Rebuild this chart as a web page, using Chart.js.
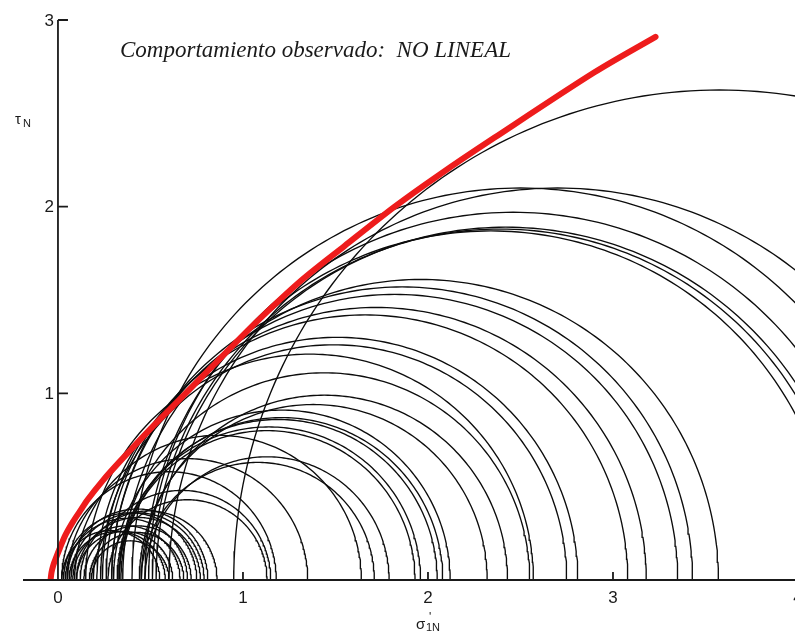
<!DOCTYPE html>
<html>
<head>
<meta charset="utf-8">
<script src="https://cdn.jsdelivr.net/npm/chart.js@4.4.0/dist/chart.umd.min.js"></script>
<style>
  html, body { margin: 0; padding: 0; background: #fff; overflow: hidden; }
  #wrap { width: 815px; height: 637px; }
</style>
</head>
<body>
<div id="wrap"><canvas id="mohr"></canvas></div>
<script>
// ==================== DATA ====================
// Mohr circles: minor (left) and major (right) normalised effective stresses
const sigma3 = [0.95, 0.60, 0.40, 0.49, 0.53, 0.51, 0.47,
                0.35, 0.29, 0.29, 0.26, 0.24, 0.21, 0.23,
                0.15, 0.33, 0.45, 0.44, 0.30, 0.34, 0.33, 0.32, 0.33, 0.47, 0.45, 0.09,
                0.05, 0.02, 0.19, 0.27,
                0.12, 0.05, 0.07, 0.10, 0.03, 0.14, 0.04, 0.17, 0.08, 0.10, 0.18, 0.06, 0.02];
const sigma1 = [6.20, 4.80, 4.60, 4.43, 4.31, 4.27, 4.21,
                3.57, 3.43, 3.35, 3.18, 3.08, 2.81, 2.75,
                2.57, 2.55, 2.43, 2.32, 2.12, 2.08, 2.05, 1.96, 1.93, 1.79, 1.71, 1.64,
                1.35, 1.18, 1.15, 1.13,
                0.86, 0.81, 0.79, 0.77, 0.75, 0.72, 0.70, 0.68, 0.66, 0.62, 0.60, 0.58, 0.55];

// failure envelope (red curve)
const envSigma = [-0.04, -0.035, -0.025, -0.01, 0.01, 0.04, 0.08, 0.12, 0.16, 0.24, 0.33, 0.50, 0.65, 0.86, 1.05, 1.31, 1.55, 1.82, 2.06, 2.36, 2.90, 3.23];
const envTau   = [0.00, 0.04, 0.08, 0.12, 0.17, 0.24, 0.31, 0.37, 0.43, 0.53, 0.63, 0.81, 0.96, 1.17, 1.36, 1.60, 1.79, 2.00, 2.17, 2.37, 2.72, 2.91];

const xTicks = [0, 1, 2, 3, 4];
const yTicks = [1, 2, 3];
const note = 'Comportamiento observado:  NO LINEAL';

// ==================== DATASETS ====================
function semicircle(s3, s1) {
  const c = (s1 + s3) / 2, r = (s1 - s3) / 2;
  const pts = [];
  for (let i = 0; i <= 160; i++) {
    const a = Math.PI * i / 160;
    pts.push({ x: c + r * Math.cos(a), y: r * Math.sin(a) });
  }
  return pts;
}

const datasets = [{
  data: envSigma.map((s, i) => ({ x: s, y: envTau[i] })),
  borderColor: '#ee1c1c',
  borderWidth: 6,
  tension: 0.3,
  borderCapStyle: 'round'
}];
sigma3.forEach((s3, i) => {
  datasets.push({
    data: semicircle(s3, sigma1[i]),
    borderColor: '#0c0c0c',
    borderWidth: 1.35,
    tension: 0
  });
});

// ==================== AXES PLUGIN ====================
const axesPlugin = {
  id: 'axesPlugin',
  afterDatasetsDraw(chart) {
    const ctx = chart.ctx, xs = chart.scales.x, ys = chart.scales.y;
    const x0 = xs.getPixelForValue(0), y0 = ys.getPixelForValue(0);
    ctx.save();
    ctx.strokeStyle = '#1a1a1a';
    ctx.lineWidth = 1.8;
    ctx.beginPath();
    ctx.moveTo(chart.chartArea.left, y0); ctx.lineTo(chart.chartArea.right, y0);
    ctx.moveTo(x0, ys.getPixelForValue(3)); ctx.lineTo(x0, y0);
    yTicks.forEach(v => { const y = ys.getPixelForValue(v); ctx.moveTo(x0, y); ctx.lineTo(x0 + 10, y); });
    xTicks.forEach(v => { if (v === 0) return; const x = xs.getPixelForValue(v); ctx.moveTo(x, y0); ctx.lineTo(x, y0 - 8); });
    ctx.stroke();

    ctx.fillStyle = '#1a1a1a';
    ctx.font = '17px "Liberation Sans", Arial, sans-serif';
    ctx.textAlign = 'right'; ctx.textBaseline = 'middle';
    yTicks.forEach(v => ctx.fillText(String(v), x0 - 4, ys.getPixelForValue(v) + 1));
    ctx.textAlign = 'center'; ctx.textBaseline = 'top';
    xTicks.forEach(v => ctx.fillText(String(v), xs.getPixelForValue(v), y0 + 10));

    // y title
    ctx.textAlign = 'left'; ctx.textBaseline = 'alphabetic';
    ctx.font = '15px "Liberation Sans", Arial, sans-serif';
    ctx.fillText('τ', 15, 124);
    ctx.font = '11px "Liberation Sans", Arial, sans-serif';
    ctx.fillText('N', 23, 127);

    // x title
    ctx.font = '15px "Liberation Sans", Arial, sans-serif';
    ctx.fillText('σ', 416, 629);
    ctx.font = '12px "Liberation Sans", Arial, sans-serif';
    ctx.fillText('\'', 429, 621);
    ctx.font = '11px "Liberation Sans", Arial, sans-serif';
    ctx.fillText('1N', 426, 631);

    // note
    ctx.font = 'italic 23px "Liberation Serif", "Times New Roman", serif';
    ctx.fillStyle = '#1a1a1a';
    ctx.fillText(note, 120, 57);
    ctx.restore();
  }
};

// ==================== CHART ====================
new Chart(document.getElementById('mohr'), {
  type: 'scatter',
  data: { datasets },
  options: {
    responsive: true,
    maintainAspectRatio: false,
    animation: false,
    showLine: true,
    layout: { padding: { left: 23, top: 20, right: 17, bottom: 57 } },
    elements: { point: { radius: 0, hoverRadius: 0 } },
    plugins: { legend: { display: false }, tooltip: { enabled: false } },
    scales: {
      x: { type: 'linear', min: -0.189, max: 4, display: false },
      y: { type: 'linear', min: 0, max: 3, display: false }
    }
  },
  plugins: [axesPlugin]
});
</script>
</body>
</html>
